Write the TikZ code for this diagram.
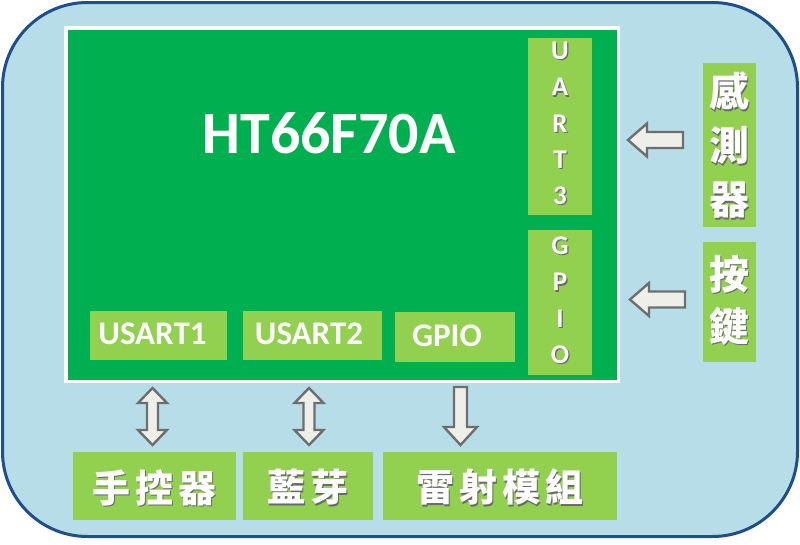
\documentclass[tikz,border=0pt]{standalone}
\usepackage{fontspec}
\setmainfont{Carlito}
\newfontfamily\cjk{Noto Sans CJK TC}
\definecolor{bgblue}{HTML}{B7DEE8}
\definecolor{frameblue}{HTML}{1F4E8C}
\definecolor{chipgreen}{HTML}{00B050}
\definecolor{lightgreen}{HTML}{92D050}
\definecolor{arrowfill}{HTML}{EFEFEA}
\definecolor{arrowline}{HTML}{6E6E6E}
\definecolor{shadowgray}{HTML}{6A6A6A}
\newcommand\shtxt[1]{\leavevmode\rlap{\kern1.3pt\raisebox{-1.3pt}{\textcolor{shadowgray}{#1}}}#1}
\begin{document}
\begin{tikzpicture}[x=1pt,y=-1pt,
  box/.style={fill=lightgreen, draw=none, inner sep=0pt, outer sep=0pt},
  lbl/.style={text=white, inner sep=0pt, font=\bfseries\fontsize{33}{33}\selectfont},
  vlbl/.style={text=white, inner sep=0pt, align=center, font=\bfseries\fontsize{27}{36.3}\selectfont},
  cjkv/.style={text=white, inner sep=0pt, align=center},
  cjkh/.style={text=white, inner sep=0pt},
  blockarrow/.style={fill=arrowfill, draw=arrowline, line width=2.4pt, line join=miter}]
\useasboundingbox (0,0) rectangle (800,544);
% outer frame
\draw[fill=bgblue, draw=frameblue, line width=3pt, rounded corners=85pt] (2.5,2.5) rectangle (797.5,536.5);
% chip
\draw[fill=chipgreen, draw=white, line width=3.5pt] (66,28) rectangle (618.5,381.5);
\node[text=white, font=\bfseries\fontsize{60}{60}\selectfont, inner sep=0pt] (chip) at (329,133) {HT66F70A};
% inner boxes
\node[box, minimum width=64pt, minimum height=177pt] (uart3) at (560,126.5) {};
\node[vlbl] (uart3t) at (560,124) {\shtxt{U}\\\shtxt{A}\\\shtxt{R}\\\shtxt{T}\\\shtxt{3}};
\node[box, minimum width=64pt, minimum height=145pt] (gpiov) at (560,302.5) {};
\node[vlbl] (gpiovt) at (560,301) {\shtxt{G}\\\shtxt{P}\\\shtxt{I}\\\shtxt{O}};
\node[box, minimum width=137pt, minimum height=49pt] (usart1) at (158.5,335.5) {};
\node[lbl] (usart1t) at (152.5,334) {USART1};
\node[box, minimum width=139pt, minimum height=49pt] (usart2) at (312.5,335.5) {};
\node[lbl] (usart2t) at (309,334) {USART2};
\node[box, minimum width=120pt, minimum height=50pt] (gpioh) at (455,337) {};
\node[lbl] (gpioht) at (447,336) {GPIO};
% right boxes
\node[box, minimum width=53pt, minimum height=164pt] (sensor) at (729.5,145) {};
\node[cjkv, font=\cjk\bfseries\fontsize{40}{54}\selectfont] (sensort) at (729.5,146) {\shtxt{感}\\\shtxt{測}\\\shtxt{器}};
\node[box, minimum width=53pt, minimum height=120pt] (key) at (729.5,302) {};
\node[cjkv, font=\cjk\bfseries\fontsize{40}{52}\selectfont] (keyt) at (729.5,301) {\shtxt{按}\\\shtxt{鍵}};
% bottom boxes
\node[box, minimum width=163pt, minimum height=68pt] (remote) at (154.5,486) {};
\node[cjkh, font=\cjk\bfseries\fontsize{38}{38}\selectfont] (remotet) at (154.5,488) {\shtxt{手}\hspace{5pt}\shtxt{控}\hspace{5pt}\shtxt{器}};
\node[box, minimum width=130pt, minimum height=68pt] (bt) at (308,486) {};
\node[cjkh, font=\cjk\bfseries\fontsize{38}{38}\selectfont] (btt) at (308,488) {\shtxt{藍}\hspace{5pt}\shtxt{芽}};
\node[box, minimum width=234pt, minimum height=68pt] (laser) at (500,486) {};
\node[cjkh, font=\cjk\bfseries\fontsize{38}{38}\selectfont] (lasert) at (500,488) {\shtxt{雷}\hspace{5pt}\shtxt{射}\hspace{5pt}\shtxt{模}\hspace{5pt}\shtxt{組}};
% arrows
\draw[blockarrow] (152.5,388) -- (167,403) -- (158,403) -- (158,430) -- (167,430) -- (152.5,445) -- (138,430) -- (147,430) -- (147,403) -- (138,403) -- cycle;
\draw[blockarrow] (309,388) -- (323.5,403) -- (314.5,403) -- (314.5,430) -- (323.5,430) -- (309,445) -- (294.5,430) -- (303.5,430) -- (303.5,403) -- (294.5,403) -- cycle;
\draw[blockarrow] (454,387) -- (467,387) -- (467,427) -- (477,427) -- (460.5,445) -- (444,427) -- (454,427) -- cycle;
\draw[blockarrow] (628,140) -- (647,123.5) -- (647,132) -- (683,132) -- (683,148) -- (647,148) -- (647,156.5) -- cycle;
\draw[blockarrow] (630,299.5) -- (649,283) -- (649,291.5) -- (685,291.5) -- (685,307.5) -- (649,307.5) -- (649,316) -- cycle;
\end{tikzpicture}
\end{document}
